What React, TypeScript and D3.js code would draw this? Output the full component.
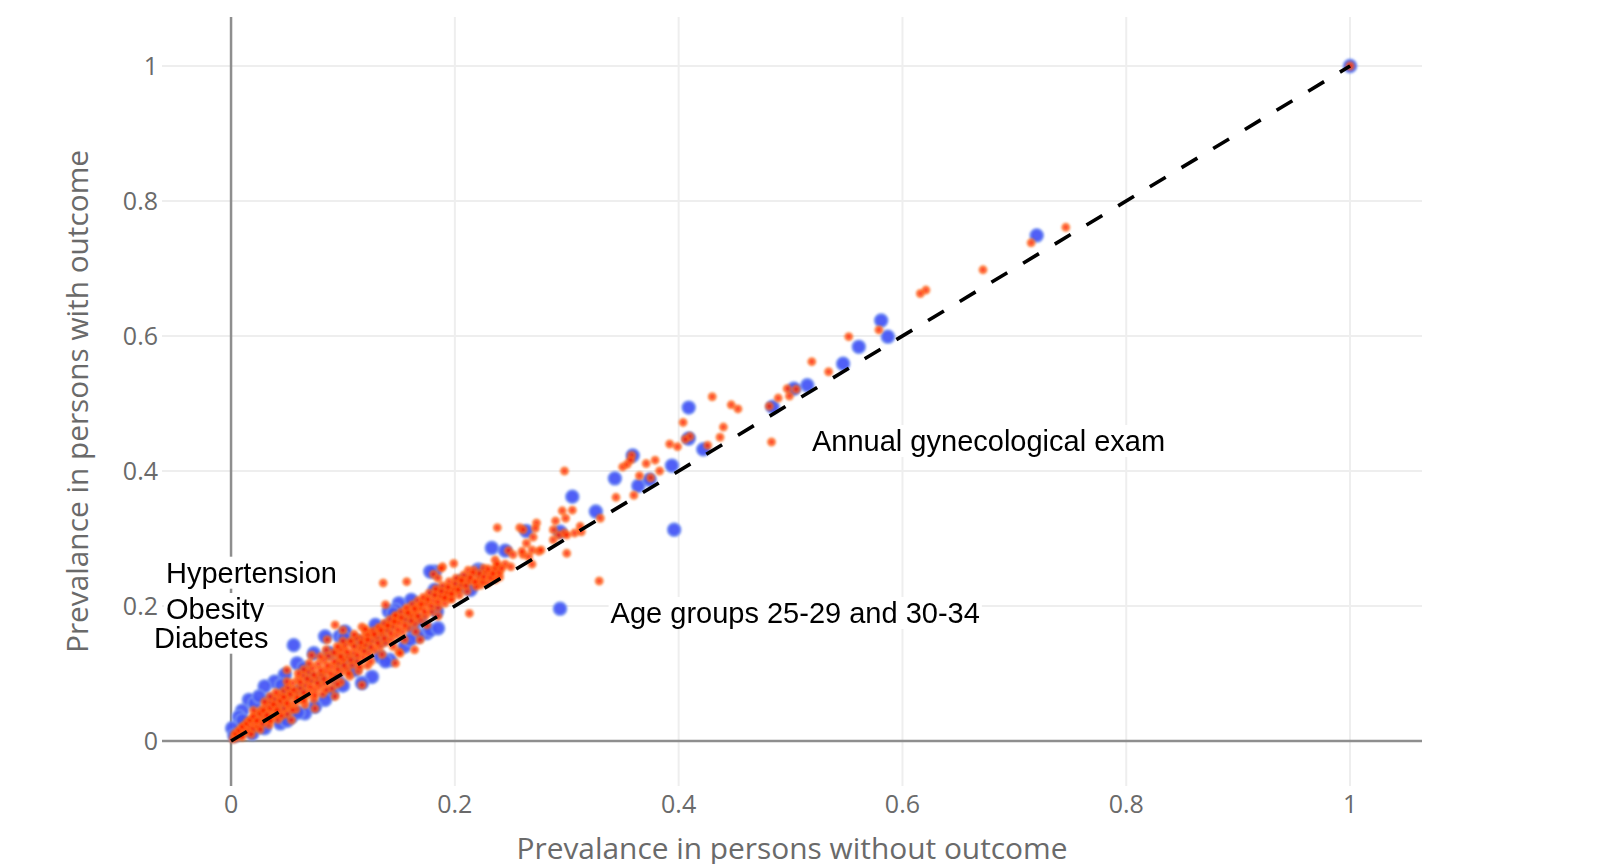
import React, { useEffect, useRef } from "react";
import * as d3 from "d3";

// ---------- data ----------
const xTicks = [0, 0.2, 0.4, 0.6, 0.8, 1];
const yTicks = [0, 0.2, 0.4, 0.6, 0.8, 1];
const xTickLabels = ["0", "0.2", "0.4", "0.6", "0.8", "1"];
const yTickLabels = ["0", "0.2", "0.4", "0.6", "0.8", "1"];

const xTitle = "Prevalance in persons without outcome";
const yTitle = "Prevalance in persons with outcome";

const referenceLine: [number, number][] = [[0, 0], [1, 1]];

// blue series (large markers)
const blueUpper: [number, number][] = [
  [1.0, 1.0], [0.72, 0.749], [0.581, 0.623], [0.587, 0.599], [0.561, 0.584],
  [0.547, 0.559], [0.515, 0.527], [0.503, 0.522], [0.484, 0.495], [0.409, 0.494],
  [0.409, 0.448], [0.422, 0.432], [0.394, 0.408], [0.359, 0.423], [0.343, 0.389],
  [0.364, 0.378], [0.374, 0.387], [0.396, 0.313], [0.305, 0.362], [0.326, 0.34],
  [0.294, 0.31], [0.264, 0.311], [0.294, 0.196], [0.233, 0.286], [0.245, 0.282],
  [0.221, 0.254], [0.222, 0.251], [0.209, 0.238], [0.205, 0.236], [0.206, 0.229],
  [0.214, 0.224], [0.191, 0.221], [0.182, 0.251], [0.178, 0.251], [0.182, 0.224],
  [0.184, 0.192], [0.161, 0.209], [0.15, 0.204], [0.141, 0.192], [0.147, 0.194],
  [0.145, 0.189], [0.169, 0.179], [0.175, 0.16], [0.163, 0.164], [0.178, 0.164],
  [0.185, 0.167], [0.167, 0.155], [0.133, 0.125], [0.142, 0.12], [0.102, 0.155],
  [0.097, 0.155], [0.102, 0.162], [0.108, 0.12], [0.099, 0.115], [0.126, 0.095],
  [0.117, 0.086],
];
const blueBand: [number, number][] = [
  [0.09, 0.071], [0.084, 0.061], [0.075, 0.051], [0.066, 0.041], [0.054, 0.036],
  [0.044, 0.026], [0.03, 0.019], [0.019, 0.011], [0.056, 0.142], [0.074, 0.13],
  [0.059, 0.115], [0.048, 0.098], [0.039, 0.088], [0.03, 0.081], [0.016, 0.061],
  [0.021, 0.056], [0.01, 0.045], [0.007, 0.036], [0.01, 0.031], [0.001, 0.019],
  [0.003, 0.008], [0.084, 0.155], [0.101, 0.153], [0.129, 0.172], [0.129, 0.155],
  [0.12, 0.14], [0.1, 0.12], [0.08, 0.092], [0.062, 0.076], [0.043, 0.052],
  [0.028, 0.04], [0.14, 0.17], [0.158, 0.182], [0.11, 0.105], [0.095, 0.09],
  [0.07, 0.095], [0.05, 0.07], [0.035, 0.06], [0.155, 0.14], [0.135, 0.15],
  [0.025, 0.066], [0.045, 0.083], [0.065, 0.108], [0.088, 0.13], [0.112, 0.148],
  [0.05, 0.03], [0.06, 0.042], [0.1, 0.082], [0.138, 0.118], [0.16, 0.15],
];

// red series (small markers)
const redUpper: [number, number][] = [
  [1.0, 1.0], [0.746, 0.761], [0.715, 0.738], [0.672, 0.698], [0.621, 0.668],
  [0.616, 0.663], [0.579, 0.609], [0.552, 0.599], [0.534, 0.547], [0.519, 0.562],
  [0.505, 0.521], [0.499, 0.511], [0.497, 0.522], [0.489, 0.508], [0.481, 0.496],
  [0.483, 0.443], [0.453, 0.492], [0.447, 0.498], [0.43, 0.51], [0.44, 0.465],
  [0.437, 0.45], [0.426, 0.438], [0.41, 0.451], [0.406, 0.447], [0.404, 0.472],
  [0.392, 0.44], [0.399, 0.436], [0.358, 0.423], [0.35, 0.406], [0.354, 0.41],
  [0.357, 0.416], [0.371, 0.411], [0.379, 0.416], [0.383, 0.4], [0.365, 0.393],
  [0.375, 0.39], [0.344, 0.361], [0.36, 0.364], [0.298, 0.4], [0.296, 0.341],
  [0.305, 0.342], [0.299, 0.33], [0.29, 0.326], [0.288, 0.313], [0.293, 0.305],
  [0.298, 0.308], [0.312, 0.318], [0.313, 0.31], [0.33, 0.33], [0.3, 0.278],
  [0.329, 0.237], [0.307, 0.308], [0.3, 0.305], [0.288, 0.298],
];
const redMid: [number, number][] = [
  [0.238, 0.316], [0.258, 0.316], [0.273, 0.323], [0.272, 0.315], [0.27, 0.302],
  [0.261, 0.313], [0.264, 0.293], [0.261, 0.276], [0.269, 0.262], [0.266, 0.273],
  [0.26, 0.281], [0.269, 0.283], [0.275, 0.281], [0.248, 0.282], [0.277, 0.283],
  [0.252, 0.276], [0.199, 0.263], [0.189, 0.258], [0.181, 0.247], [0.212, 0.253],
  [0.211, 0.239], [0.205, 0.239], [0.197, 0.219], [0.196, 0.211], [0.237, 0.246],
  [0.236, 0.239], [0.223, 0.231], [0.229, 0.234], [0.217, 0.253], [0.226, 0.256],
  [0.236, 0.268], [0.24, 0.243], [0.22, 0.234], [0.202, 0.224], [0.193, 0.224],
  [0.19, 0.214], [0.184, 0.221], [0.188, 0.256], [0.232, 0.246], [0.237, 0.258],
  [0.213, 0.189], [0.185, 0.241], [0.173, 0.209],
];
const redEdge: [number, number][] = [
  [0.157, 0.236], [0.136, 0.234], [0.138, 0.202], [0.093, 0.172], [0.086, 0.15],
  [0.1, 0.164], [0.117, 0.169], [0.12, 0.162], [0.072, 0.127], [0.05, 0.105],
  [0.164, 0.135], [0.15, 0.132], [0.117, 0.083], [0.093, 0.066], [0.075, 0.048],
  [0.054, 0.031], [0.167, 0.199], [0.163, 0.187], [0.157, 0.194], [0.148, 0.179],
  [0.141, 0.172], [0.133, 0.167], [0.124, 0.16], [0.117, 0.152], [0.108, 0.145],
  [0.1, 0.135], [0.095, 0.13], [0.099, 0.12], [0.147, 0.184], [0.169, 0.15],
  [0.151, 0.13], [0.147, 0.115],
];
const redBand: [number, number][] = [
  [0.002, 0.003], [0.003, 0.009], [0.005, 0.005], [0.006, 0.013], [0.008, 0.008],
  [0.009, 0.018], [0.011, 0.012], [0.012, 0.023], [0.013, 0.017], [0.015, 0.029],
  [0.016, 0.014], [0.017, 0.022], [0.019, 0.034], [0.02, 0.018], [0.021, 0.027],
  [0.023, 0.04], [0.024, 0.021], [0.025, 0.032], [0.027, 0.046], [0.028, 0.026],
  [0.029, 0.037], [0.031, 0.052], [0.032, 0.03], [0.033, 0.042], [0.035, 0.057],
  [0.036, 0.034], [0.037, 0.047], [0.039, 0.062], [0.04, 0.039], [0.041, 0.052],
  [0.043, 0.068], [0.044, 0.043], [0.045, 0.057], [0.047, 0.074], [0.048, 0.048],
  [0.049, 0.062], [0.051, 0.079], [0.052, 0.052], [0.053, 0.067], [0.055, 0.086],
  [0.057, 0.057], [0.058, 0.072], [0.06, 0.091], [0.061, 0.061], [0.062, 0.078],
  [0.064, 0.097], [0.066, 0.066], [0.067, 0.083], [0.069, 0.103], [0.07, 0.071],
  [0.071, 0.089], [0.073, 0.108], [0.075, 0.076], [0.076, 0.094], [0.078, 0.114],
  [0.079, 0.081], [0.081, 0.099], [0.083, 0.12], [0.084, 0.086], [0.085, 0.104],
  [0.087, 0.126], [0.089, 0.091], [0.09, 0.11], [0.092, 0.131], [0.093, 0.097],
  [0.095, 0.115], [0.097, 0.137], [0.098, 0.102], [0.1, 0.121], [0.102, 0.142],
  [0.103, 0.107], [0.105, 0.126], [0.107, 0.148], [0.108, 0.113], [0.11, 0.131],
  [0.112, 0.153], [0.113, 0.118], [0.115, 0.137], [0.117, 0.14], [0.118, 0.124],
  [0.12, 0.143], [0.122, 0.156], [0.123, 0.129], [0.125, 0.148], [0.127, 0.163],
  [0.128, 0.135], [0.13, 0.153], [0.132, 0.168], [0.133, 0.14], [0.135, 0.159],
  [0.137, 0.174], [0.138, 0.146], [0.14, 0.164], [0.142, 0.18], [0.143, 0.151],
  [0.145, 0.17], [0.147, 0.186], [0.148, 0.157], [0.15, 0.175], [0.152, 0.191],
  [0.153, 0.162], [0.155, 0.18], [0.157, 0.197], [0.158, 0.168], [0.16, 0.186],
  [0.162, 0.202], [0.164, 0.174], [0.165, 0.192], [0.167, 0.208], [0.169, 0.18],
  [0.17, 0.197], [0.172, 0.213], [0.174, 0.186], [0.175, 0.203], [0.177, 0.219],
  [0.179, 0.192], [0.181, 0.208], [0.183, 0.225], [0.185, 0.198], [0.187, 0.214],
  [0.189, 0.23], [0.191, 0.204], [0.193, 0.219], [0.195, 0.236], [0.197, 0.21],
  [0.199, 0.225], [0.201, 0.241], [0.204, 0.216], [0.206, 0.231], [0.208, 0.246],
  [0.211, 0.222], [0.213, 0.237], [0.216, 0.249], [0.219, 0.229], [0.222, 0.243],
  [0.225, 0.236], [0.228, 0.25], [0.232, 0.242], [0.236, 0.255], [0.24, 0.25],
  [0.245, 0.262], [0.25, 0.258], [0.01, 0.006], [0.018, 0.01], [0.026, 0.017],
  [0.034, 0.024], [0.042, 0.032], [0.05, 0.04], [0.058, 0.047], [0.066, 0.054],
  [0.074, 0.062], [0.082, 0.07], [0.09, 0.078], [0.098, 0.087], [0.106, 0.096],
  [0.114, 0.104], [0.122, 0.112], [0.02, 0.045], [0.035, 0.066], [0.05, 0.088],
  [0.065, 0.106], [0.08, 0.125], [0.095, 0.14], [0.11, 0.158],
];
const redBandFill: [number, number][] = [
  [0.004, 0.011], [0.007, 0.016], [0.01, 0.021], [0.014, 0.026], [0.017, 0.031],
  [0.02, 0.036], [0.023, 0.03], [0.026, 0.041], [0.029, 0.045], [0.032, 0.038],
  [0.035, 0.049], [0.038, 0.054], [0.041, 0.046], [0.044, 0.06], [0.047, 0.065],
  [0.05, 0.056], [0.053, 0.07], [0.056, 0.076], [0.059, 0.064], [0.062, 0.087],
  [0.065, 0.072], [0.068, 0.092], [0.071, 0.08], [0.074, 0.098], [0.077, 0.086],
  [0.08, 0.105], [0.083, 0.092], [0.086, 0.112], [0.089, 0.1], [0.092, 0.118],
  [0.095, 0.106], [0.098, 0.125], [0.101, 0.112], [0.104, 0.132], [0.107, 0.12],
  [0.11, 0.14], [0.113, 0.127], [0.116, 0.146], [0.119, 0.133], [0.122, 0.15],
  [0.125, 0.139], [0.128, 0.158], [0.131, 0.145], [0.134, 0.164], [0.137, 0.152],
  [0.14, 0.171], [0.143, 0.159], [0.146, 0.177], [0.149, 0.165], [0.152, 0.183],
  [0.155, 0.171], [0.158, 0.19], [0.161, 0.178], [0.164, 0.196], [0.167, 0.185],
  [0.17, 0.203], [0.173, 0.192], [0.176, 0.21], [0.179, 0.2], [0.182, 0.216],
  [0.185, 0.206], [0.188, 0.222], [0.191, 0.212], [0.194, 0.228], [0.197, 0.218],
  [0.2, 0.233], [0.203, 0.224], [0.206, 0.238], [0.21, 0.23], [0.214, 0.242],
  [0.218, 0.236], [0.222, 0.248], [0.226, 0.243], [0.23, 0.255], [0.234, 0.248],
  [0.238, 0.262], [0.242, 0.256], [0.035, 0.03], [0.045, 0.037], [0.055, 0.046],
  [0.065, 0.06], [0.075, 0.068], [0.085, 0.076], [0.095, 0.084], [0.105, 0.1],
  [0.115, 0.11], [0.125, 0.118], [0.135, 0.128], [0.145, 0.14], [0.155, 0.15],
  [0.165, 0.162], [0.175, 0.172], [0.185, 0.185], [0.03, 0.058], [0.04, 0.072],
  [0.06, 0.1], [0.07, 0.115], [0.085, 0.135], [0.1, 0.148], [0.12, 0.166],
];

const annotations = [
  { text: "Hypertension", x: -0.0581, y: 0.2345 },
  { text: "Obesity", x: -0.0581, y: 0.1807 },
  { text: "Diabetes", x: -0.0688, y: 0.1382 },
  { text: "Annual gynecological exam", x: 0.5192, y: 0.4296 },
  { text: "Age groups 25-29 and 30-34", x: 0.3392, y: 0.1748 },
];

export default function App() {
  const ref = useRef<SVGSVGElement>(null);

  useEffect(() => {
    const svg = d3.select(ref.current);
    svg.selectAll("*").remove();

    const x = d3.scaleLinear().domain([-0.0617, 1.0643]).range([162, 1422]);
    const y = d3.scaleLinear().domain([-0.0667, 1.0726]).range([786, 17]);
    const [xl, xr] = x.range();
    const [yb, yt] = y.range();

    const defs = svg.append("defs");
    defs.append("filter").attr("id", "soft").attr("x", "-5%").attr("y", "-5%")
      .attr("width", "110%").attr("height", "110%")
      .append("feGaussianBlur").attr("stdDeviation", 0.8);

    svg.append("rect").attr("width", 1612).attr("height", 864).attr("fill", "#fff");

    // grid
    const grid = svg.append("g");
    grid.selectAll(".gx").data(xTicks.filter((t) => t !== 0)).join("line")
      .attr("x1", (d) => x(d)).attr("x2", (d) => x(d))
      .attr("y1", yb).attr("y2", yt)
      .attr("stroke", "#eeeeee").attr("stroke-width", 2);
    grid.selectAll(".gy").data(yTicks.filter((t) => t !== 0)).join("line")
      .attr("y1", (d) => y(d)).attr("y2", (d) => y(d))
      .attr("x1", xl).attr("x2", xr)
      .attr("stroke", "#eeeeee").attr("stroke-width", 2);

    // zero lines
    svg.append("line").attr("x1", x(0)).attr("x2", x(0)).attr("y1", yb).attr("y2", yt)
      .attr("stroke", "#8e8e8e").attr("stroke-width", 2.5);
    svg.append("line").attr("x1", xl).attr("x2", xr).attr("y1", y(0)).attr("y2", y(0))
      .attr("stroke", "#8e8e8e").attr("stroke-width", 2.5);

    // tick labels
    const tickFont = "'Open Sans', 'DejaVu Sans', sans-serif";
    svg.append("g").selectAll("text").data(xTicks).join("text")
      .attr("x", (d) => x(d)).attr("y", 813)
      .attr("text-anchor", "middle")
      .attr("font-family", tickFont).attr("font-size", 25).attr("fill", "#6a6a6a")
      .text((d, i) => xTickLabels[i]);
    svg.append("g").selectAll("text").data(yTicks).join("text")
      .attr("x", 158).attr("y", (d) => y(d) + 9)
      .attr("text-anchor", "end")
      .attr("font-family", tickFont).attr("font-size", 25).attr("fill", "#6a6a6a")
      .text((d, i) => yTickLabels[i]);

    // axis titles
    svg.append("text")
      .attr("x", (xl + xr) / 2).attr("y", 859)
      .attr("text-anchor", "middle")
      .attr("font-family", tickFont).attr("font-size", 29.5).attr("fill", "#6a6a6a")
      .attr("textLength", 551).attr("lengthAdjust", "spacingAndGlyphs")
      .text(xTitle);
    svg.append("text")
      .attr("transform", `translate(87.5, ${(yb + yt) / 2}) rotate(-90)`)
      .attr("text-anchor", "middle")
      .attr("font-family", tickFont).attr("font-size", 29.5).attr("fill", "#6a6a6a")
      .attr("textLength", 503).attr("lengthAdjust", "spacingAndGlyphs")
      .text(yTitle);

    // markers
    const blue = [...blueUpper, ...blueBand];
    const red = [...redUpper, ...redMid, ...redEdge, ...redBand, ...redBandFill];

    svg.append("g").attr("filter", "url(#soft)")
      .selectAll("circle").data(blue).join("circle")
      .attr("cx", (d) => x(d[0])).attr("cy", (d) => y(d[1]))
      .attr("r", 6.6)
      .attr("fill", "#4657f6").attr("stroke", "#7592f2").attr("stroke-width", 1.6)
      .attr("opacity", 0.95);

    svg.append("g").attr("filter", "url(#soft)")
      .selectAll("circle").data(red).join("circle")
      .attr("cx", (d) => x(d[0])).attr("cy", (d) => y(d[1]))
      .attr("r", 3.4)
      .attr("fill", "#ff0d00").attr("stroke", "#ff6418").attr("stroke-width", 2.2)
      .attr("opacity", 0.8);

    // reference line y = x
    const line = d3.line<[number, number]>().x((d) => x(d[0])).y((d) => y(d[1]));
    svg.append("path").attr("d", line(referenceLine) as string)
      .attr("fill", "none").attr("stroke", "#000").attr("stroke-width", 3.6)
      .attr("stroke-dasharray", "18.5,18.5");

    // annotations with white background
    const ann = svg.append("g");
    annotations.forEach((a) => {
      const g = ann.append("g");
      const t = g.append("text")
        .attr("x", x(a.x)).attr("y", y(a.y))
        .attr("font-family", "'Liberation Sans', Arial, sans-serif")
        .attr("font-size", 29).attr("fill", "#000")
        .text(a.text);
      const bb = (t.node() as SVGTextElement).getBBox();
      g.insert("rect", "text")
        .attr("x", bb.x - 2).attr("y", bb.y)
        .attr("width", bb.width + 4).attr("height", bb.height)
        .attr("fill", "#fff");
    });
  }, []);

  return (
    <svg
      ref={ref}
      width={1612}
      height={864}
      style={{ position: "absolute", left: 0, top: 0, display: "block" }}
    />
  );
}
